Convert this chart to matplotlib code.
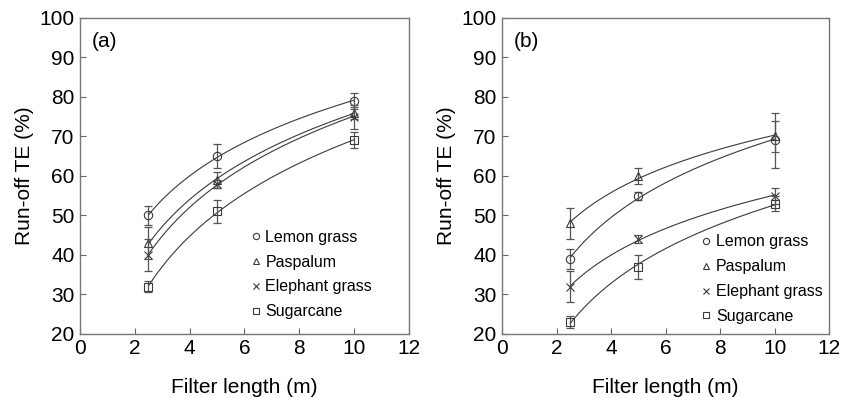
import numpy as np
import matplotlib
matplotlib.use("Agg")
import matplotlib.pyplot as plt
from matplotlib.lines import Line2D

plt.rcParams['font.family'] = ['Liberation Sans', 'DejaVu Sans']

lengths = [2.5, 5, 10]
species = ["Lemon grass", "Paspalum", "Elephant grass", "Sugarcane"]
markers = ["o", "^", "x", "s"]

a_vals = {
    "Lemon grass": [50, 65, 79],
    "Paspalum": [43, 59, 76],
    "Elephant grass": [40, 58, 75],
    "Sugarcane": [32, 51, 69],
}
a_err = {
    "Lemon grass": [2.5, 3, 2],
    "Paspalum": [4, 2, 1.5],
    "Elephant grass": [4, 1, 3],
    "Sugarcane": [1.5, 3, 2],
}
b_vals = {
    "Lemon grass": [39, 55, 69],
    "Paspalum": [48, 60, 70],
    "Elephant grass": [32, 44, 55],
    "Sugarcane": [23, 37, 53],
}
b_err = {
    "Lemon grass": [2.5, 1, 7],
    "Paspalum": [4, 2, 4],
    "Elephant grass": [4, 1, 2],
    "Sugarcane": [1.5, 3, 2],
}

col = "#3a3a3a"
ecol = "#555555"

fig = plt.figure(figsize=(8.41, 3.98), dpi=100)
ax_a = fig.add_axes([0.0951, 0.161, 0.391, 0.794])
ax_b = fig.add_axes([0.597, 0.161, 0.389, 0.794])

def draw(ax, vals, errs, label, leg_anchor):
    x = np.array(lengths)
    xs = np.linspace(x.min(), x.max(), 200)
    for sp, m in zip(species, markers):
        y = np.array(vals[sp])
        c = np.polyfit(np.log(x), y, 1)
        ax.plot(xs, np.polyval(c, np.log(xs)), color=col, lw=0.8)
        ax.errorbar(x, y, yerr=errs[sp], fmt='none', ecolor=ecol, elinewidth=0.9,
                    capsize=3, capthick=0.9)
        ax.plot(x, y, linestyle='none', marker=m, markersize=6,
                markerfacecolor='none', markeredgecolor=col, markeredgewidth=0.8)
    ax.set_xlim(0, 12)
    ax.set_ylim(20, 100)
    ax.set_xticks(range(0, 13, 2))
    ax.set_yticks(range(20, 101, 10))
    ax.tick_params(direction='in', length=4, width=0.8, color='#666666',
                   labelsize=15, pad=4)
    for s in ax.spines.values():
        s.set_color('#777777')
        s.set_linewidth(1.0)
    ax.set_xlabel("Filter length (m)", fontsize=15, labelpad=14)
    ax.set_ylabel("Run-off TE (%)", fontsize=15, labelpad=4)
    ax.text(0.035, 0.925, label, transform=ax.transAxes, fontsize=15,
            ha='left', va='center')
    handles = [Line2D([], [], linestyle='none', marker=m, markersize=4.5,
                      markerfacecolor='none', markeredgecolor=col,
                      markeredgewidth=0.8) for m in markers]
    ax.legend(handles, species, loc='upper left', bbox_to_anchor=leg_anchor,
              frameon=False, fontsize=11.5, handlelength=0.6, handletextpad=0.3,
              labelspacing=0.62, borderpad=0, borderaxespad=0)

draw(ax_a, a_vals, a_err, "(a)", (0.52, 0.33))
draw(ax_b, b_vals, b_err, "(b)", (0.61, 0.315))

fig.savefig("out.png", dpi=100)
